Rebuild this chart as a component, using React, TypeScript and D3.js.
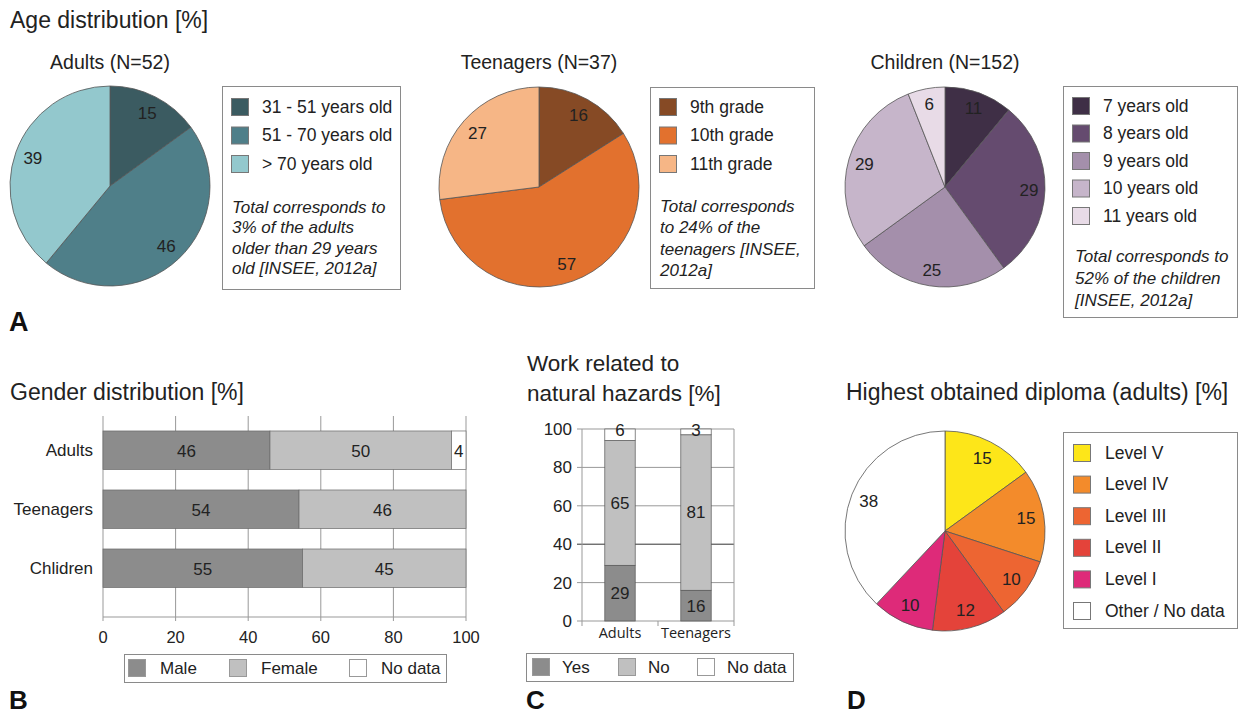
import React from 'react';
import * as d3 from 'd3';

const FONT = '"Liberation Sans", Arial, Helvetica, sans-serif';

// ---------- DATA ----------
const adultAgeLabels = ['31 - 51 years old', '51 - 70 years old', '> 70 years old'];
const adultAgeValues = [15, 46, 39];
const adultAgeNotes = ['Total corresponds to', '3% of the adults', 'older than 29 years', 'old [INSEE, 2012a]'];

const teenGradeLabels = ['9th grade', '10th grade', '11th grade'];
const teenGradeValues = [16, 57, 27];
const teenGradeNotes = ['Total corresponds', 'to 24% of the', 'teenagers [INSEE,', '2012a]'];

const childAgeLabels = ['7 years old', '8 years old', '9 years old', '10 years old', '11 years old'];
const childAgeValues = [11, 29, 25, 29, 6];
const childAgeNotes = ['Total corresponds to', '52% of the children', '[INSEE, 2012a]'];

const diplomaLabels = ['Level V', 'Level IV', 'Level III', 'Level II', 'Level I', 'Other / No data'];
const diplomaValues = [15, 15, 10, 12, 10, 38];

const genderGroups = ['Adults', 'Teenagers', 'Chlidren'];
const genderMale = [46, 54, 55];
const genderFemale = [50, 46, 45];
const genderNoData = [4, 0, 0];
const genderLegend = ['Male', 'Female', 'No data'];

const workGroups = ['Adults', 'Teenagers'];
const workYes = [29, 16];
const workNo = [65, 81];
const workNoData = [6, 3];
const workLegend = ['Yes', 'No', 'No data'];

const percentTicks = [0, 20, 40, 60, 80, 100];

// ---------- COLOURS ----------
const adultColors = ['#3b5b61', '#4f7f89', '#93c8cd'];
const teenColors = ['#864a25', '#e2712e', '#f6b686'];
const childColors = ['#3f2f46', '#654b6f', '#a48fab', '#c6b5ca', '#e8dbe7'];
const diplomaColors = ['#fde619', '#f38b2b', '#ed6532', '#e4433a', '#de2a79', '#ffffff'];
const stackColors = ['#8c8c8c', '#c0c0c0', '#ffffff'];

function Pie({ values, colors, cx, cy, r, labelR }: any) {
  const arcs = d3.pie<number>().sort(null).value((d) => d)(values);
  const arc = d3.arc<d3.PieArcDatum<number>>().innerRadius(0).outerRadius(r);
  const lab = d3.arc<d3.PieArcDatum<number>>().innerRadius(labelR).outerRadius(labelR);
  return (
    <g transform={`translate(${cx},${cy})`}>
      {arcs.map((a, i) => (
        <path key={i} d={arc(a) || ''} fill={colors[i]} stroke="#555" strokeWidth={0.8} />
      ))}
      {arcs.map((a, i) => {
        const [x, y] = lab.centroid(a);
        return (
          <text key={i} x={x} y={y} dy="0.35em" textAnchor="middle" fontSize={17} fill="#222">
            {values[i]}
          </text>
        );
      })}
    </g>
  );
}

function Legend({ box, labels, colors, swX, swY0, swStep, sw, textX, notes, noteX, noteY0, noteStep }: any) {
  return (
    <g>
      <rect x={box[0] + 0.5} y={box[1] + 0.5} width={box[2]} height={box[3]} fill="#fff" stroke="#8a8a8a" strokeWidth={1} />
      {labels.map((l: string, i: number) => (
        <g key={i}>
          <rect x={swX + 0.5} y={swY0 + i * swStep + 0.5} width={sw} height={sw} fill={colors[i]} stroke="#777" strokeWidth={1} />
          <text x={textX} y={swY0 + i * swStep + sw / 2} dy="0.35em" fontSize={17.5} fill="#222">{l}</text>
        </g>
      ))}
      {notes && notes.map((n: string, i: number) => (
        <text key={i} x={noteX} y={noteY0 + i * noteStep} dy="0.35em" fontSize={17} fontStyle="italic" fill="#222">{n}</text>
      ))}
    </g>
  );
}

function GenderChart() {
  const x = d3.scaleLinear().domain([0, 100]).range([103, 466]);
  const y = d3.scaleBand<string>().domain(genderGroups).range([410.5, 608]).padding(0.347);
  const top = 416, bottom = 617;
  const stacks = genderGroups.map((g, i) => [genderMale[i], genderFemale[i], genderNoData[i]]);
  return (
    <g>
      <text x={10} y={400} fontSize={23} fill="#222">Gender distribution [%]</text>
      {percentTicks.map((t) => (
        <g key={t}>
          <line x1={x(t)} x2={x(t)} y1={top} y2={bottom + 4} stroke="#999" strokeWidth={1} />
          <text x={x(t)} y={637} dy="0.35em" textAnchor="middle" fontSize={16.5} fill="#222">{t}</text>
        </g>
      ))}
      <line x1={x(0)} x2={x(100)} y1={bottom} y2={bottom} stroke="#999" strokeWidth={1} />
      {genderGroups.map((g, i) => {
        let acc = 0;
        const by = y(g) as number;
        const bh = y.bandwidth();
        return (
          <g key={g}>
            <text x={93} y={by + bh / 2} dy="0.35em" textAnchor="end" fontSize={17} fill="#222">{g}</text>
            {stacks[i].map((v, k) => {
              const x0 = x(acc);
              acc += v;
              if (v === 0) return null;
              return (
                <g key={k}>
                  <rect x={x0} y={by} width={x(acc) - x0} height={bh} fill={stackColors[k]} stroke="#6a6a6a" strokeWidth={0.7} />
                  <text x={(x0 + x(acc)) / 2} y={by + bh / 2 + 1} dy="0.35em" textAnchor="middle" fontSize={17} fill="#222">{v}</text>
                </g>
              );
            })}
          </g>
        );
      })}
      <rect x={124.5} y={654.5} width={322} height={28} fill="#fff" stroke="#8a8a8a" />
      {genderLegend.map((l, i) => {
        const sx = [128, 229, 349][i];
        return (
          <g key={l}>
            <rect x={sx + 0.5} y={659.5} width={17} height={17} fill={stackColors[i]} stroke="#999" />
            <text x={sx + 32} y={668} dy="0.35em" fontSize={17} fill="#222">{l}</text>
          </g>
        );
      })}
    </g>
  );
}

function WorkChart() {
  const x = d3.scaleBand<string>().domain(workGroups).range([582, 734]).paddingInner(0.6).paddingOuter(0.3);
  const y = d3.scaleLinear().domain([0, 100]).range([621, 429]);
  const stacks = workGroups.map((g, i) => [workYes[i], workNo[i], workNoData[i]]);
  return (
    <g>
      <text x={527} y={371} fontSize={22.5} fill="#222">Work related to</text>
      <text x={527} y={401} fontSize={22.5} fill="#222">natural hazards [%]</text>
      {percentTicks.map((t) => (
        <g key={t}>
          <line x1={577} x2={734} y1={y(t)} y2={y(t)} stroke={t === 40 ? '#333' : '#999'} strokeWidth={1} />
          <text x={572} y={y(t)} dy="0.35em" textAnchor="end" fontSize={17} fill="#222">{t}</text>
        </g>
      ))}
      <line x1={582} x2={582} y1={y(100)} y2={y(0) + 5} stroke="#999" />
      <line x1={734} x2={734} y1={y(100)} y2={y(0) + 5} stroke="#999" />
      <line x1={658} x2={658} y1={y(0)} y2={y(0) + 5} stroke="#999" />
      {workGroups.map((g, i) => {
        let acc = 0;
        const bx = x(g) as number;
        const bw = x.bandwidth();
        return (
          <g key={g}>
            <text x={bx + bw / 2} y={633} dy="0.35em" textAnchor="middle" fontSize={14.5} fontFamily='"Open Sans", sans-serif' fill="#222">{g}</text>
            {stacks[i].map((v, k) => {
              const y0 = y(acc);
              acc += v;
              return (
                <rect key={k} x={bx} y={y(acc)} width={bw} height={y0 - y(acc)} fill={stackColors[k]} stroke="#555" strokeWidth={0.7} />
              );
            })}
          </g>
        );
      })}
      {workGroups.map((g, i) => {
        let acc = 0;
        const bx = x(g) as number;
        const bw = x.bandwidth();
        return (
          <g key={g}>
            {stacks[i].map((v, k) => {
              const y0 = y(acc);
              acc += v;
              const cy = k === 2 ? y(acc) + 1 : (y0 + y(acc)) / 2;
              return (
                <text key={k} x={bx + bw / 2} y={cy} dy="0.35em" textAnchor="middle" fontSize={17} fill="#222">{v}</text>
              );
            })}
          </g>
        );
      })}
      <rect x={526.5} y={653.5} width={267} height={28} fill="#fff" stroke="#8a8a8a" />
      {workLegend.map((l, i) => {
        const sx = [532, 618, 697][i];
        return (
          <g key={l}>
            <rect x={sx + 0.5} y={658.5} width={17} height={17} fill={stackColors[i]} stroke="#999" />
            <text x={sx + 30} y={667} dy="0.35em" fontSize={17} fill="#222">{l}</text>
          </g>
        );
      })}
    </g>
  );
}

export default function App() {
  return (
    <svg width={1239} height={716} style={{ position: 'absolute', left: 0, top: 0, background: '#fff' }} fontFamily={FONT}>
      <rect x={0} y={0} width={1239} height={716} fill="#fff" />
      <text x={10} y={28} fontSize={23} fill="#222">Age distribution [%]</text>

      {/* Adults */}
      <text x={110} y={62} dy="0.35em" textAnchor="middle" fontSize={19.5} fill="#222">Adults (N=52)</text>
      <Pie values={adultAgeValues} colors={adultColors} cx={110} cy={186} r={100} labelR={82} />
      <Legend box={[222, 86, 178, 203]} labels={adultAgeLabels} colors={adultColors}
        swX={231} swY0={98} swStep={28.5} sw={17} textX={262}
        notes={adultAgeNotes} noteX={232} noteY0={207} noteStep={20.5} />

      {/* Teenagers */}
      <text x={539} y={62} dy="0.35em" textAnchor="middle" fontSize={19.5} fill="#222">Teenagers (N=37)</text>
      <Pie values={teenGradeValues} colors={teenColors} cx={539} cy={187} r={100} labelR={82} />
      <Legend box={[650, 87, 164, 201]} labels={teenGradeLabels} colors={teenColors}
        swX={659} swY0={98} swStep={28.5} sw={17} textX={690}
        notes={teenGradeNotes} noteX={660} noteY0={206} noteStep={21.3} />

      {/* Children */}
      <text x={945} y={62} dy="0.35em" textAnchor="middle" fontSize={19.5} fill="#222">Children (N=152)</text>
      <Pie values={childAgeValues} colors={childColors} cx={945} cy={187} r={100} labelR={84} />
      <Legend box={[1063, 86, 174, 231]} labels={childAgeLabels} colors={childColors}
        swX={1072} swY0={97} swStep={27.5} sw={17} textX={1103}
        notes={childAgeNotes} noteX={1075} noteY0={256} noteStep={22} />

      <text x={9} y={331} fontSize={27} fontWeight="bold" fill="#111">A</text>

      <GenderChart />
      <text x={9} y={709} fontSize={26} fontWeight="bold" fill="#111">B</text>

      <WorkChart />
      <text x={526} y={709} fontSize={26} fontWeight="bold" fill="#111">C</text>

      {/* Diploma */}
      <text x={846} y={400} fontSize={23} fill="#222">Highest obtained diploma (adults) [%]</text>
      <Pie values={diplomaValues} colors={diplomaColors} cx={945} cy={531} r={100} labelR={82} />
      <Legend box={[1063, 432, 174, 196]} labels={diplomaLabels} colors={diplomaColors}
        swX={1073} swY0={444} swStep={31.6} sw={17} textX={1105} />
      <text x={847} y={709} fontSize={26} fontWeight="bold" fill="#111">D</text>
    </svg>
  );
}
